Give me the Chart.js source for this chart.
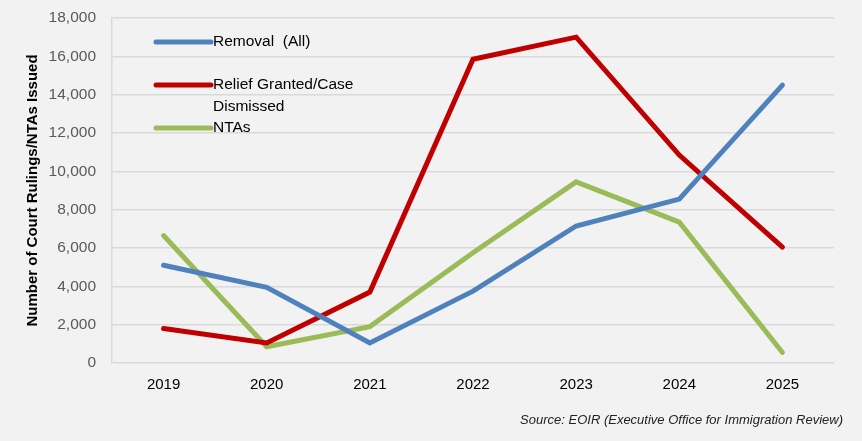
<!DOCTYPE html>
<html>
<head>
<meta charset="utf-8">
<script src="https://cdn.jsdelivr.net/npm/chart.js@4.4.1/dist/chart.umd.min.js"></script>
<style>
  html, body { margin: 0; padding: 0; background: #f2f2f2; }
  #wrap { width: 862px; height: 441px; position: relative; }
</style>
</head>
<body>
<div id="wrap"><canvas id="grafico"></canvas></div>
<script>
// datos
const anios = ['2019', '2020', '2021', '2022', '2023', '2024', '2025'];
const removal = [5100, 3950, 1050, 3750, 7150, 8550, 14500];
const relief = [1800, 1050, 3700, 15850, 17000, 10850, 6050];
const ntas = [6650, 850, 1900, 5750, 9450, 7350, 550];
const nombres = [['Removal  (All)'], ['Relief Granted/Case', 'Dismissed'], ['NTAs']];
const colores = ['#4f81bd', '#c00000', '#9bbb59'];
const yMax = 18000;
const yPaso = 2000;
const tituloY = 'Number of Court Rulings/NTAs Issued';
const fuente = 'Source: EOIR (Executive Office for Immigration Review)';

const FAMILIA = "'Liberation Sans', Arial, sans-serif";

// leyenda dentro del area + texto de la fuente
const extras = {
  id: 'extras',
  afterDraw(chart) {
    const ctx = chart.ctx;
    const area = chart.chartArea;
    const filas = [24, 67, 110];
    ctx.save();
    ctx.font = '15.5px ' + FAMILIA;
    ctx.textBaseline = 'middle';
    ctx.textAlign = 'left';
    chart.data.datasets.forEach((ds, i) => {
      const y = area.top + filas[i];
      ctx.strokeStyle = ds.borderColor;
      ctx.lineWidth = 5;
      ctx.lineCap = 'round';
      ctx.beginPath();
      ctx.moveTo(area.left + 44, y);
      ctx.lineTo(area.left + 99, y);
      ctx.stroke();
      ctx.fillStyle = '#000';
      nombres[i].forEach((t, j) => ctx.fillText(t, area.left + 101, y + j * 22));
    });
    ctx.font = 'italic 13px ' + FAMILIA;
    ctx.textAlign = 'right';
    ctx.fillStyle = '#222';
    ctx.fillText(fuente, 843, 420);
    ctx.restore();
  }
};

const series = [removal, relief, ntas];
new Chart(document.getElementById('grafico'), {
  type: 'line',
  data: {
    labels: anios,
    datasets: series.map((d, i) => ({
      label: nombres[i].join(' '),
      data: d,
      borderColor: colores[i],
      backgroundColor: colores[i],
      borderWidth: 5,
      borderCapStyle: 'round',
      borderJoinStyle: 'miter',
      pointRadius: 0,
      tension: 0
    }))
  },
  options: {
    responsive: true,
    maintainAspectRatio: false,
    animation: false,
    layout: { padding: { left: 0, top: 18, right: 28, bottom: 0 } },
    plugins: {
      legend: { display: false },
      tooltip: { enabled: false }
    },
    scales: {
      x: {
        offset: true,
        grid: { display: false, drawTicks: false },
        border: { display: false },
        ticks: { color: '#000', padding: 13, font: { family: FAMILIA, size: 15 } },
        afterFit: s => { s.height = 78; }
      },
      y: {
        min: 0,
        max: yMax,
        grid: { color: '#d9d9d9', lineWidth: 1.5, drawTicks: true, tickLength: 15, tickColor: 'rgba(0,0,0,0)' },
        border: { display: true, color: '#d9d9d9', width: 1.5 },
        ticks: {
          stepSize: yPaso,
          color: '#595959',
          padding: 1,
          font: { family: FAMILIA, size: 15.5 },
          callback: v => v.toLocaleString('en-US')
        },
        title: {
          display: true,
          text: tituloY,
          color: '#000',
          padding: { top: 24, bottom: 0 },
          font: { family: FAMILIA, size: 15, weight: 'bold' }
        },
        afterFit: s => { s.width = 112; }
      }
    }
  },
  plugins: [extras]
});
</script>
</body>
</html>
